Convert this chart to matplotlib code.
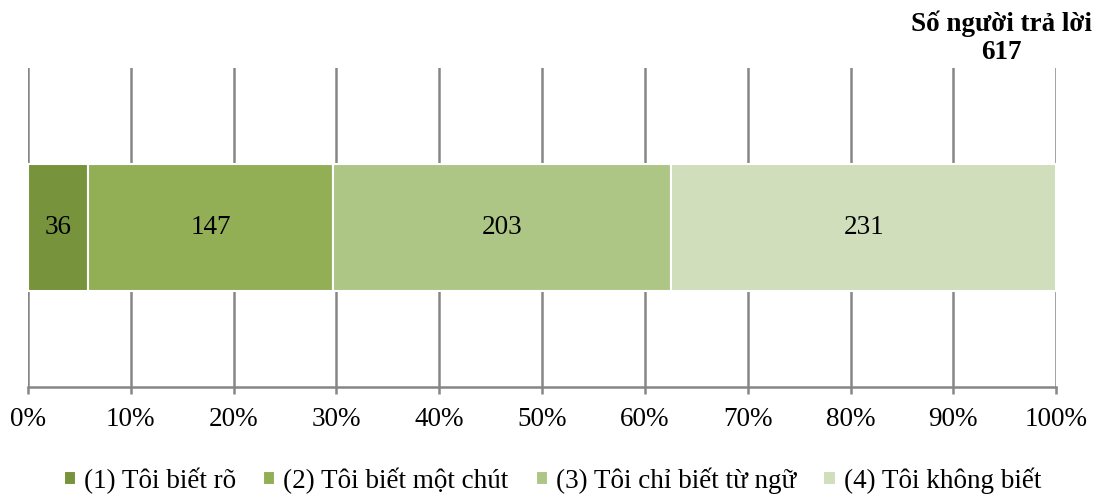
import matplotlib.pyplot as plt
from matplotlib.ticker import PercentFormatter

# so nguoi tra loi theo tung muc
nhan = ['(1) Tôi biết rõ', '(2) Tôi biết một chút',
        '(3) Tôi chỉ biết từ ngữ', '(4) Tôi không biết']
so_nguoi = [36, 147, 203, 231]
mau = ['#77933C', '#92AF56', '#ADC685', '#D0DEBB']
tong = sum(so_nguoi)

plt.rcParams['font.family'] = ['Liberation Serif', 'DejaVu Serif']
fs = 19.5

fig = plt.figure(figsize=(10.99, 5.04), dpi=100)
ax = fig.add_axes([0.0255, 0.232, 0.9355, 0.633])

trai = 0.0
for ten, n, c in zip(nhan, so_nguoi, mau):
    w = n / tong
    ax.barh(0, w, left=trai, height=0.4, color=c, edgecolor='white',
            linewidth=1.5, label=ten, zorder=3)
    ax.text(trai + w / 2, 0, str(n), ha='center', va='center',
            fontsize=fs, color='black', zorder=4)
    trai += w

ax.set_xlim(0, 1)
ax.set_ylim(-0.5, 0.5)
ax.set_xticks([i / 10 for i in range(11)])
ax.xaxis.set_major_formatter(PercentFormatter(1.0, decimals=0))
ax.set_yticks([])
ax.grid(axis='x', color='#868686', linewidth=1.8, zorder=0)
for s in ['top', 'right', 'left']:
    ax.spines[s].set_visible(False)
ax.spines['bottom'].set_color('#868686')
ax.spines['bottom'].set_linewidth(1.8)
ax.tick_params(axis='x', colors='#868686', width=1.8, length=5,
               labelsize=fs, labelcolor='black', pad=9)

fig.text(0.911, 0.98, 'Số người trả lời\n617', ha='center', va='top',
         fontsize=fs, fontweight='bold', linespacing=1.2)

ax.legend(loc='upper center', bbox_to_anchor=(0.51, -0.175), ncol=4,
          frameon=False, fontsize=fs, handlelength=0.45, handleheight=0.45,
          handletextpad=0.3, columnspacing=1.0)

fig.savefig('out.png', dpi=100)
